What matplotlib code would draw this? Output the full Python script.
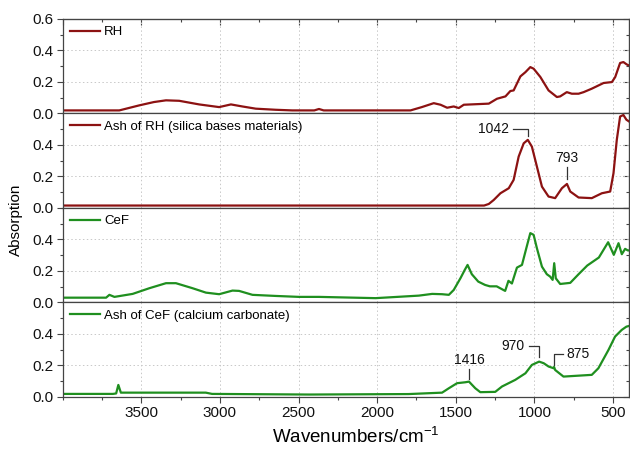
"""
FTIR absorption spectra of rice husk, cellulose fibre and their ashes,
stacked in four panels sharing the wavenumber axis.
"""

import matplotlib
matplotlib.use("Agg")
import matplotlib.pyplot as plt
from matplotlib.ticker import MultipleLocator

plt.rcParams["font.family"] = ["Liberation Sans", "DejaVu Sans"]
plt.rcParams["mathtext.default"] = "regular"

# Spectrum data (wavenumber in cm-1, absorption)
rh_wn = [4000, 3640, 3513, 3420, 3343, 3259, 3132, 3005, 2930, 2857, 2772,
         2645, 2540, 2400, 2370, 2340, 2222, 1988, 1788, 1716, 1640, 1597,
         1555, 1513, 1481, 1449, 1290, 1238, 1184, 1153, 1132, 1089, 1057,
         1026, 1005, 962, 910, 857, 836, 794, 762, 719, 687, 635, 560, 507,
         486, 455, 434, 413, 400]
rh_abs = [0.019, 0.019, 0.051, 0.072, 0.083, 0.080, 0.057, 0.040, 0.057,
          0.044, 0.030, 0.023, 0.019, 0.019, 0.028, 0.019, 0.019, 0.019,
          0.019, 0.040, 0.065, 0.055, 0.036, 0.044, 0.034, 0.055, 0.062,
          0.093, 0.108, 0.142, 0.146, 0.235, 0.262, 0.294, 0.284, 0.231,
          0.146, 0.104, 0.108, 0.135, 0.125, 0.125, 0.135, 0.157, 0.193,
          0.199, 0.231, 0.320, 0.326, 0.311, 0.305]

ash_rh_wn = [4000, 1320, 1290, 1259, 1216, 1163, 1132, 1100, 1068, 1042,
             1016, 984, 952, 910, 868, 825, 793, 772, 719, 635, 571, 518,
             497, 476, 455, 434, 415, 400]
ash_rh_abs = [0.015, 0.015, 0.025, 0.050, 0.093, 0.125, 0.178, 0.326, 0.410,
              0.432, 0.389, 0.262, 0.135, 0.072, 0.062, 0.125, 0.152, 0.104,
              0.066, 0.062, 0.093, 0.104, 0.220, 0.432, 0.580, 0.590, 0.560,
              0.550]

cef_wn = [4000, 3724, 3703, 3671, 3555, 3449, 3343, 3280, 3174, 3089, 3005,
          2920, 2878, 2793, 2645, 2497, 2370, 2010, 1735, 1650, 1587, 1544,
          1513, 1470, 1443, 1425, 1398, 1357, 1314, 1283, 1240, 1186, 1165,
          1143, 1111, 1079, 1047, 1026, 1005, 984, 952, 921, 900, 884, 874,
          864, 836, 772, 719, 664, 590, 531, 495, 465, 444, 423, 406, 400]
cef_abs = [0.030, 0.030, 0.048, 0.035, 0.054, 0.090, 0.122, 0.122, 0.090,
           0.062, 0.052, 0.075, 0.073, 0.048, 0.041, 0.035, 0.035, 0.027,
           0.043, 0.054, 0.052, 0.048, 0.079, 0.154, 0.206, 0.238, 0.179,
           0.132, 0.111, 0.102, 0.102, 0.073, 0.137, 0.120, 0.221, 0.238,
           0.361, 0.440, 0.429, 0.344, 0.227, 0.179, 0.164, 0.143, 0.249,
           0.153, 0.117, 0.124, 0.179, 0.234, 0.285, 0.382, 0.302, 0.376,
           0.306, 0.340, 0.330, 0.330]

ash_cef_wn = [4000, 3680, 3660, 3646, 3630, 3090, 3050, 2433, 1800, 1587,
              1544, 1492, 1439, 1416, 1376, 1344, 1249, 1206, 1122, 1057,
              1016, 970, 941, 910, 878, 875, 868, 815, 635, 593, 529, 487,
              445, 415, 400]
ash_cef_abs = [0.019, 0.019, 0.022, 0.076, 0.027, 0.027, 0.019, 0.015,
               0.018, 0.027, 0.055, 0.087, 0.093, 0.097, 0.055, 0.030, 0.032,
               0.066, 0.108, 0.150, 0.203, 0.224, 0.214, 0.193, 0.182, 0.190,
               0.171, 0.129, 0.140, 0.182, 0.298, 0.383, 0.425, 0.446, 0.450]

labels = ["RH", "Ash of RH (silica bases materials)", "CeF",
          "Ash of CeF (calcium carbonate)"]
x_ticks = [3500, 3000, 2500, 2000, 1500, 1000, 500]

RED = "#8c1212"
GREEN = "#1f8f1f"
colors = [RED, RED, GREEN, GREEN]
series = [(rh_wn, rh_abs), (ash_rh_wn, ash_rh_abs),
          (cef_wn, cef_abs), (ash_cef_wn, ash_cef_abs)]

AXIS_COLOR = "#444444"

fig, axes = plt.subplots(4, 1, sharex=True, figsize=(6.3, 4.5), dpi=100)
fig.subplots_adjust(left=0.0995, right=0.998, top=0.958, bottom=0.118,
                    hspace=0)

for i, ax in enumerate(axes):
    wn, ab = series[i]
    ax.plot(wn, ab, color=colors[i], lw=1.6, solid_joinstyle="round",
            label=labels[i])
    ax.set_xlim(4000, 400)
    ax.set_ylim(0, 0.6)

    ax.set_xticks(x_ticks)
    ax.xaxis.set_minor_locator(MultipleLocator(250))
    ax.yaxis.set_minor_locator(MultipleLocator(0.1))

    ax.grid(True, which="major", color="#c8c8c8", lw=0.7,
            linestyle=(0, (1.5, 2.5)))

    ax.tick_params(which="both", direction="out", colors=AXIS_COLOR,
                   labelcolor="#111111", labelsize=11, pad=2)
    ax.tick_params(which="major", length=4.5, width=0.8)
    ax.tick_params(which="minor", length=2.5, width=0.8)
    for sp in ax.spines.values():
        sp.set_color(AXIS_COLOR)
        sp.set_linewidth(0.9)

    # inward ticks on the right-hand side
    right = ax.secondary_yaxis("right")
    right.yaxis.set_major_locator(MultipleLocator(0.2))
    right.yaxis.set_minor_locator(MultipleLocator(0.1))
    right.tick_params(which="both", direction="in", colors=AXIS_COLOR,
                      labelright=False, width=0.8)
    right.tick_params(which="major", length=4.5)
    right.tick_params(which="minor", length=2.5)
    right.spines["right"].set_color(AXIS_COLOR)

    if i == 0:
        ax.set_yticks([0.0, 0.2, 0.4, 0.6])
        top = ax.secondary_xaxis("top")
        top.xaxis.set_major_locator(MultipleLocator(500))
        top.xaxis.set_minor_locator(MultipleLocator(250))
        top.tick_params(which="both", direction="in", colors=AXIS_COLOR,
                        labeltop=False, width=0.8)
        top.tick_params(which="major", length=4.5)
        top.tick_params(which="minor", length=2.5)
        top.spines["top"].set_color(AXIS_COLOR)
    else:
        ax.set_yticks([0.0, 0.2, 0.4])

    ax.yaxis.set_major_formatter(plt.FormatStrFormatter("%.1f"))

    ax.legend(loc="upper left", frameon=False, fontsize=9.5,
              handlelength=2.3, handletextpad=0.3, borderaxespad=0.25,
              borderpad=0.3)

ax_ash_rh = axes[1]
ax_ash_cef = axes[3]
BRACKET = dict(color="#333333", lw=0.9)
TEXT = dict(fontsize=10, color="#111111")

# 1042: label to the left, bracket hooks down onto the peak
ax_ash_rh.plot([1138, 1042, 1042], [0.50, 0.50, 0.457], **BRACKET)
ax_ash_rh.text(1163, 0.50, "1042", ha="right", va="center", **TEXT)

# 793: label above a short tick
ax_ash_rh.plot([793, 793], [0.184, 0.26], **BRACKET)
ax_ash_rh.text(793, 0.27, "793", ha="center", va="bottom", **TEXT)

# 1416
ax_ash_cef.plot([1416, 1416], [0.114, 0.178], **BRACKET)
ax_ash_cef.text(1416, 0.19, "1416", ha="center", va="bottom", **TEXT)

# 970
ax_ash_cef.plot([1036, 970, 970], [0.324, 0.324, 0.254], **BRACKET)
ax_ash_cef.text(1062, 0.324, "970", ha="right", va="center", **TEXT)

# 875
ax_ash_cef.plot([875, 875, 821], [0.203, 0.273, 0.273], **BRACKET)
ax_ash_cef.text(795, 0.273, "875", ha="left", va="center", **TEXT)

fig.text(16 / 630, 1 - 220 / 450, "Absorption", rotation=90,
         ha="center", va="center", fontsize=11)
fig.text(356 / 630, 1 - 437 / 450, r"Wavenumbers/cm$^{-1}$",
         ha="center", va="center", fontsize=13.5)

fig.savefig("out.png", dpi=100)
